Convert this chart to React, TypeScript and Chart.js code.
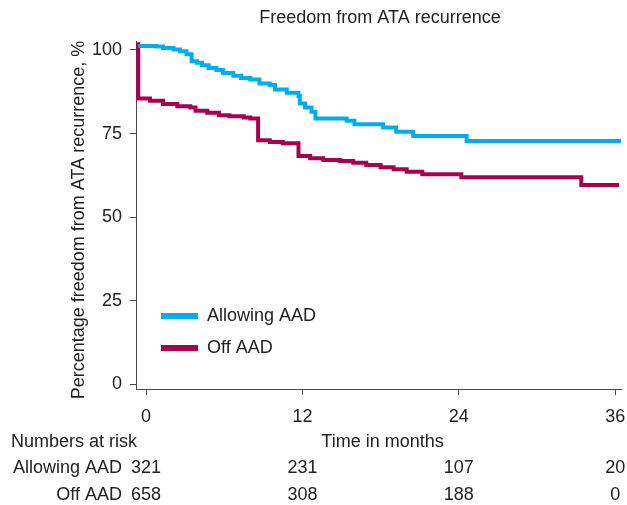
import React, { useEffect, useRef } from "react";
import { Chart, registerables } from "chart.js";

Chart.register(...registerables);

const FONT = '"Liberation Sans", Arial, Helvetica, sans-serif';
const TEXT = "#222222";
const AXIS = "#4a4a4a";
const BLUE = "#00aeef";
const RED = "#ab0050";

const TITLE = "Freedom from ATA recurrence";
const Y_TITLE = "Percentage freedom from ATA recurrence, %";
const X_TITLE = "Time in months";
const RISK_TITLE = "Numbers at risk";

const seriesNames = ["Allowing AAD", "Off AAD"];

// step points: time (months) where survival changes, new survival (%)
const allowingTimes = [
  -0.6, 0.8, 1.3, 2.1, 2.6, 3.1, 3.5, 3.9, 4.3, 4.8, 5.4, 5.9, 6.7, 7.3, 8.0, 8.7, 9.5, 9.9, 10.8,
  11.7, 11.8, 12.2, 12.7, 13.0, 15.4, 16.0, 18.2, 19.2, 20.5, 24.6, 36.45,
];
const allowingSurv = [
  101.2, 101.0, 100.6, 100.1, 99.6, 98.7, 96.6, 96.2, 95.4, 94.6, 94.0, 93.1, 92.3, 91.6, 91.2, 90.0,
  89.5, 88.2, 87.2, 86.2, 84.0, 82.8, 81.5, 79.5, 78.8, 77.8, 76.8, 75.5, 74.3, 72.8, 72.8,
];

const offTimes = [
  -0.6, -0.6, 0.3, 1.3, 2.4, 3.4, 3.8, 4.7, 5.6, 6.4, 7.5, 8.0, 8.6, 9.5, 10.5, 11.7, 12.6, 13.6, 14.9,
  15.9, 16.9, 18.0, 19.0, 20.0, 21.2, 24.2, 33.4, 36.3,
];
const offSurv = [
  102.3, 85.5, 84.8, 83.8, 83.2, 82.8, 81.8, 81.2, 80.5, 80.2, 79.8, 79.5, 73.0, 72.5, 72.1, 68.3,
  67.6, 67.1, 66.8, 66.3, 65.6, 64.9, 64.3, 63.6, 62.8, 61.9, 59.6, 59.6,
];

const xTicks = [0, 12, 24, 36];
const yTicks = [0, 25, 50, 75, 100];

const riskTimes = [0, 12, 24, 36];
const allowingAtRisk = [321, 231, 107, 20];
const offAtRisk = [658, 308, 188, 0];

const toPoints = (xs: number[], ys: number[]) => xs.map((x, i) => ({ x, y: ys[i] }));

const overlayPlugin = {
  id: "overlay",
  afterDraw(chart: Chart) {
    const { ctx, chartArea } = chart;
    const xScale = chart.scales.x;
    ctx.save();
    ctx.fillStyle = TEXT;
    ctx.font = `18px ${FONT}`;
    ctx.textBaseline = "middle";

    // title
    ctx.textAlign = "center";
    ctx.fillText(TITLE, 380, 18);

    // y-axis title
    ctx.save();
    ctx.translate(79, 220);
    ctx.rotate(-Math.PI / 2);
    ctx.fillText(Y_TITLE, 0, 0);
    ctx.restore();

    // legend
    const legendColors = [BLUE, RED];
    const legendY = [316, 348];
    seriesNames.forEach((name, i) => {
      ctx.strokeStyle = legendColors[i];
      ctx.lineWidth = 6;
      ctx.beginPath();
      ctx.moveTo(161, legendY[i]);
      ctx.lineTo(198, legendY[i]);
      ctx.stroke();
      ctx.textAlign = "left";
      ctx.fillText(name, 207, legendY[i]);
    });

    // x-axis title and risk table
    ctx.textAlign = "center";
    ctx.fillText(X_TITLE, (chartArea.left + chartArea.right) / 2 + 4, 442);
    ctx.textAlign = "left";
    ctx.fillText(RISK_TITLE, 11, 442);

    const rows = [allowingAtRisk, offAtRisk];
    const rowY = [468, 495];
    rows.forEach((row, r) => {
      ctx.textAlign = "right";
      ctx.fillText(seriesNames[r], 122, rowY[r]);
      ctx.textAlign = "center";
      row.forEach((n, i) => {
        ctx.fillText(String(n), xScale.getPixelForValue(riskTimes[i]), rowY[r]);
      });
    });
    ctx.restore();
  },
};

export default function App(): React.ReactElement {
  const canvasRef = useRef<HTMLCanvasElement | null>(null);

  useEffect(() => {
    if (!canvasRef.current) return;
    const ctx = canvasRef.current.getContext("2d");
    if (!ctx) return;

    const chart = new Chart(ctx, {
      type: "line",
      data: {
        datasets: [
          {
            label: seriesNames[0],
            data: toPoints(allowingTimes, allowingSurv),
            borderColor: BLUE,
            borderWidth: 4,
            stepped: "before",
            pointRadius: 0,
            fill: false,
          },
          {
            label: seriesNames[1],
            data: toPoints(offTimes, offSurv),
            borderColor: RED,
            borderWidth: 4,
            stepped: "before",
            pointRadius: 0,
            fill: false,
          },
        ],
      },
      options: {
        responsive: false,
        animation: false,
        devicePixelRatio: 1,
        layout: { padding: { top: 41.6, right: 6, left: 0, bottom: 0 } },
        plugins: {
          legend: { display: false },
          tooltip: { enabled: false },
          title: { display: false },
        },
        scales: {
          x: {
            type: "linear",
            min: -0.77,
            max: 36.45,
            afterBuildTicks: (scale) => {
              scale.ticks = xTicks.map((value) => ({ value }));
            },
            afterFit: (scale) => {
              scale.height = 116;
              scale.paddingLeft = 0;
              scale.paddingRight = 0;
            },
            grid: { drawOnChartArea: false, drawTicks: true, tickLength: 6, color: AXIS },
            border: { display: true, color: AXIS, width: 1 },
            ticks: {
              padding: 11,
              color: TEXT,
              font: { family: FONT, size: 18 },
              maxRotation: 0,
              autoSkip: false,
            },
          },
          y: {
            type: "linear",
            min: -1.41,
            max: 102.5,
            afterBuildTicks: (scale) => {
              scale.ticks = yTicks.map((value) => ({ value }));
            },
            afterFit: (scale) => {
              scale.width = 136;
              scale.paddingTop = 0;
              scale.paddingBottom = 0;
            },
            grid: { drawOnChartArea: false, drawTicks: true, tickLength: 6, color: AXIS },
            border: { display: true, color: AXIS, width: 1 },
            ticks: {
              padding: 8,
              color: TEXT,
              font: { family: FONT, size: 18 },
              autoSkip: false,
            },
          },
        },
      },
      plugins: [overlayPlugin],
    });

    return () => {
      chart.destroy();
    };
  }, []);

  return (
    <div style={{ position: "fixed", left: 0, top: 0, width: 627, height: 505, background: "#fff" }}>
      <canvas ref={canvasRef} width={627} height={505} style={{ display: "block", width: 627, height: 505 }} />
    </div>
  );
}
